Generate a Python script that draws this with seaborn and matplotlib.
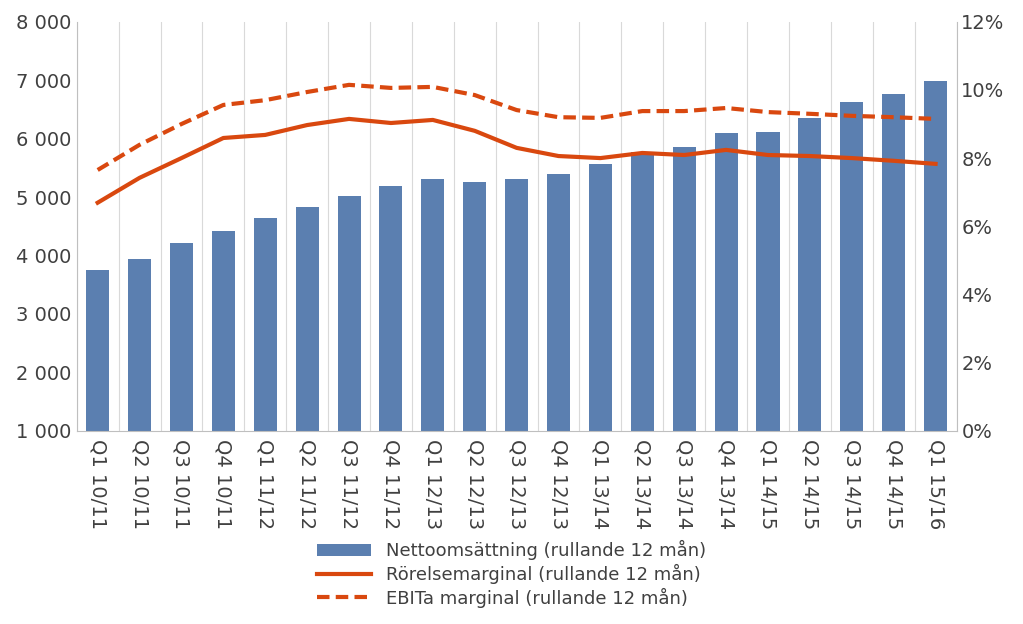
import matplotlib
matplotlib.use("Agg")
import matplotlib.pyplot as plt
import seaborn as sns
import pandas as pd
import numpy as np

categories = ["Q1 10/11","Q2 10/11","Q3 10/11","Q4 10/11","Q1 11/12","Q2 11/12","Q3 11/12","Q4 11/12",
              "Q1 12/13","Q2 12/13","Q3 12/13","Q4 12/13","Q1 13/14","Q2 13/14","Q3 13/14","Q4 13/14",
              "Q1 14/15","Q2 14/15","Q3 14/15","Q4 14/15","Q1 15/16"]
netto = [3750,3940,4215,4420,4640,4830,5020,5190,5310,5260,5310,5400,5570,5775,5860,6100,6115,6355,6630,6770,6990]
rorelse = [6.69,7.42,8.0,8.59,8.68,8.97,9.15,9.03,9.12,8.8,8.3,8.06,8.0,8.15,8.09,8.24,8.09,8.06,8.0,7.92,7.83]
ebita = [7.65,8.39,9.0,9.56,9.7,9.94,10.15,10.06,10.09,9.85,9.41,9.2,9.18,9.38,9.38,9.47,9.35,9.3,9.24,9.2,9.15]

df = pd.DataFrame({"kv": categories, "netto": netto})
bar_c = "#5b7fb0"; line_c = "#d9480f"; txt = "#404040"

fig = plt.figure(figsize=(10.23, 6.24), dpi=100)
ax = fig.add_axes([0.075, 0.31, 0.86, 0.655])
sns.barplot(data=df, x="kv", y="netto", color=bar_c, width=0.55, ax=ax, saturation=1, label="Nettoomsättning (rullande 12 mån)")
if ax.get_legend() is not None:
    ax.get_legend().remove()
ax.set_ylim(1000, 8000)
ax.set_yticks(range(1000, 8001, 1000))
ax.set_yticklabels([f"{v:,}".replace(",", " ") for v in range(1000, 8001, 1000)])
ax.set_xlim(-0.5, len(categories) - 0.5)
ax.set_xlabel(""); ax.set_ylabel("")
ax.set_xticks(range(len(categories)))
ax.set_xticklabels(categories, rotation=-90)
for x in np.arange(-0.5, len(categories), 1):
    ax.axvline(x, color="#d9d9d9", lw=0.8, zorder=0)
for s in ["top", "right"]:
    ax.spines[s].set_visible(False)
ax.spines["left"].set_color("#bfbfbf"); ax.spines["bottom"].set_color("#bfbfbf")
ax.tick_params(axis="both", colors=txt, labelsize=14, length=0)
ax.tick_params(axis="x", pad=6)

ax2 = ax.twinx()
xs = np.arange(len(categories))
ax2.plot(xs, rorelse, color=line_c, lw=3, label="Rörelsemarginal (rullande 12 mån)")
ax2.plot(xs, ebita, color=line_c, lw=3, ls=(0, (3, 1.5)), label="EBITa marginal (rullande 12 mån)")
ax2.set_ylim(0, 12)
ax2.set_yticks(range(0, 13, 2))
ax2.set_yticklabels([f"{v}%" for v in range(0, 13, 2)])
ax2.tick_params(axis="y", colors=txt, labelsize=14, length=0)
for s in ["top", "left", "bottom"]:
    ax2.spines[s].set_visible(False)
ax2.spines["right"].set_color("#bfbfbf")

h1, l1 = ax.get_legend_handles_labels()
h2, l2 = ax2.get_legend_handles_labels()
fig.legend(h1 + h2, l1 + l2, loc="lower center", bbox_to_anchor=(0.5, 0.0), frameon=False,
           fontsize=13, labelcolor=txt, handlelength=3, labelspacing=0.2)
fig.savefig("out.png", dpi=100)
